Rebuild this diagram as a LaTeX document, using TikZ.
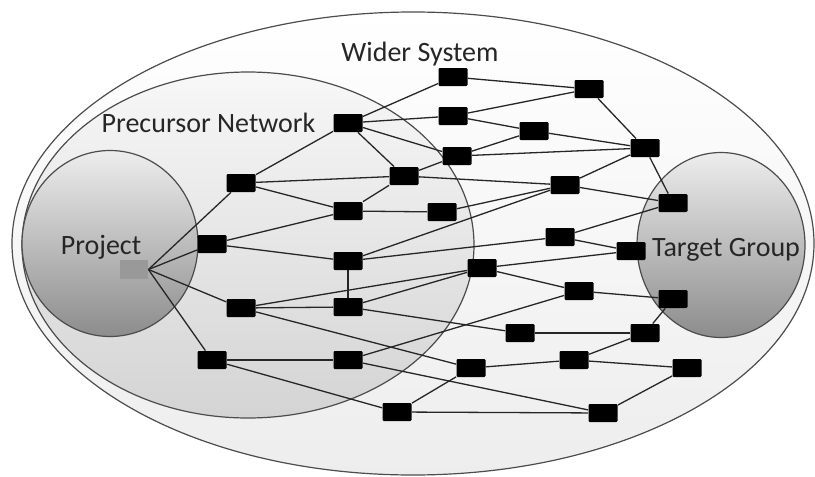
\documentclass[tikz,border=0pt]{standalone}
\usepackage{fontspec}
\setmainfont{Carlito}
\pgfdeclarelayer{areas}
\pgfdeclarelayer{links}
\pgfsetlayers{areas,links,main}
\begin{document}
\begin{tikzpicture}[x=0.5pt,y=-0.5pt,
  box/.style={fill=black,inner sep=0pt,minimum width=14.5pt,minimum height=9pt,rounded corners=0.6pt},
  proj/.style={fill=black!40,inner sep=0pt,minimum width=14pt,minimum height=9.5pt},
  link/.style={draw=black!85,line width=0.65pt},
  rim/.style={draw=black!70,line width=0.6pt},
  lbl/.style={font=\fontsize{14pt}{16pt}\selectfont,text=black!85,inner sep=0pt,anchor=base}]
\useasboundingbox (0,0) rectangle (815,477);
% areas
\begin{pgfonlayer}{areas}
\path[rim,top color=white,bottom color=black!7] (413,243.5) ellipse [x radius=200.5pt,y radius=115.75pt];
\path[rim,top color=black!3,bottom color=black!17] (248,245) ellipse [x radius=113pt,y radius=86.5pt];
\path[rim,top color=black!7,bottom color=black!45] (110,243.5) ellipse [x radius=44pt,y radius=46.5pt];
\path[rim,top color=black!7,bottom color=black!45] (721,245) ellipse [x radius=42pt,y radius=46.25pt];
\end{pgfonlayer}
% labels
\node[lbl] (tws) at (420,61) {Wider System};
\node[lbl] (tpn) at (208.5,132) {Precursor Network};
\node[lbl] (tpr) at (101,254) {Project};
\node[lbl] (ttg) at (726,256) {Target Group};
% nodes
\node[proj] (P) at (134,269.5) {};
\node[box] (nA) at (241,183) {};
\node[box] (nB) at (212,244) {};
\node[box] (nC) at (241,308) {};
\node[box] (nD) at (212,360) {};
\node[box] (nE) at (348,123) {};
\node[box] (nF) at (348,211) {};
\node[box] (nG) at (348,261) {};
\node[box] (nH) at (348,307) {};
\node[box] (nI) at (348,360) {};
\node[box] (nJ) at (404,176) {};
\node[box] (nK) at (442,212) {};
\node[box] (nL) at (453,77) {};
\node[box] (nM) at (453,116) {};
\node[box] (nN) at (457,156) {};
\node[box] (nO) at (534,131) {};
\node[box] (nP) at (589,89) {};
\node[box] (nQ) at (645,148) {};
\node[box] (nR) at (565,185) {};
\node[box] (nS) at (673,203) {};
\node[box] (nT) at (560,237) {};
\node[box] (nU) at (631,251) {};
\node[box] (nV) at (482,268) {};
\node[box] (nW) at (579,291) {};
\node[box] (nX) at (673,299) {};
\node[box] (nY) at (520,333) {};
\node[box] (nZ) at (645,333) {};
\node[box] (nAA) at (574,360) {};
\node[box] (nAB) at (471,368) {};
\node[box] (nAC) at (687,368) {};
\node[box] (nAD) at (397,412) {};
\node[box] (nAE) at (603,413) {};
% links
\begin{pgfonlayer}{links}
\foreach \b in {nA,nB,nC,nD} \path[link] (P.east) -- (\b);
\foreach \a/\b in {nA/nE,nA/nJ,nA/nF,nB/nF,nB/nG,nC/nH,nC/nV,nC/nAB,nD/nI,nD/nAD,
  nE/nL,nE/nM,nE/nN,nE/nJ,nF/nJ,nF/nK,nG/nH,nG/nR,nG/nT,nH/nV,nH/nY,nI/nW,nI/nAE,
  nJ/nN,nJ/nR,nK/nR,nL/nP,nM/nP,nM/nO,nN/nO,nN/nQ,nO/nQ,nP/nQ,nQ/nR,nQ/nS,nR/nS,
  nT/nS,nT/nU,nV/nU,nV/nW,nW/nX,nY/nZ,nZ/nX,nAA/nAB,nAA/nZ,nAA/nAC,nAC/nAE,nAD/nAE,nAD/nAB}
  \path[link] (\a) -- (\b);
\end{pgfonlayer}
\end{tikzpicture}
\end{document}
